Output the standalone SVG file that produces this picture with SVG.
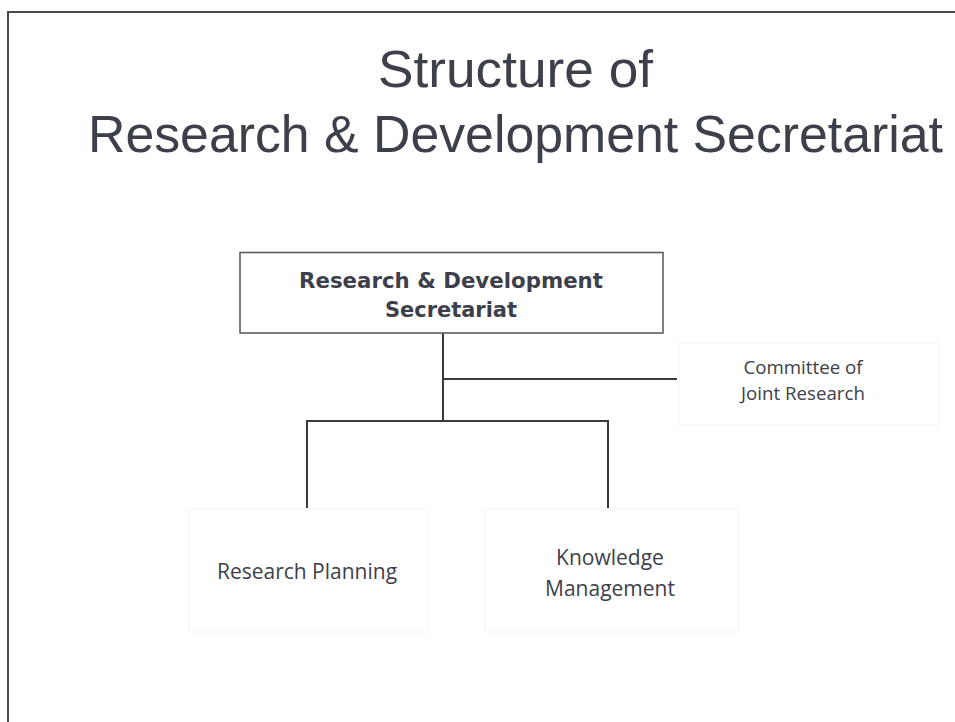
<svg xmlns="http://www.w3.org/2000/svg" width="955" height="722" viewBox="0 0 955 722">
  <style>
    .title { font-family: "Liberation Sans", Arial, sans-serif; font-size: 51.5px; fill: #3d404a; text-anchor: middle; }
    .main { font-family: "DejaVu Sans", Verdana, sans-serif; font-size: 22px; font-weight: bold; fill: #3d404a; text-anchor: middle; }
    .lbl { font-family: "Open Sans", "Noto Sans", sans-serif; fill: #3d404a; text-anchor: middle; }
    .faint { fill: #ffffff; stroke: #f0f5f5; stroke-width: 1; }
    .conn { stroke: #3a3a3a; stroke-width: 2; fill: none; }
  </style>
  <rect x="0" y="0" width="955" height="722" fill="#ffffff"/>
  <!-- slide frame -->
  <path d="M8,722 V12 H955" fill="none" stroke="#4a4a52" stroke-width="2"/>

  <g id="title">
    <text class="title" x="515.5" y="87" textLength="275" lengthAdjust="spacingAndGlyphs">Structure of</text>
    <text class="title" x="515.5" y="152" textLength="855" lengthAdjust="spacingAndGlyphs">Research &amp; Development Secretariat</text>
  </g>

  <g id="connectors">
    <path class="conn" d="M443,333 V421"/>
    <path class="conn" d="M443,379 H677"/>
    <path class="conn" d="M307,508 V421 H608 V508"/>
  </g>

  <g id="node-rd-secretariat">
    <rect x="240" y="252.5" width="423" height="80.5" fill="#ffffff" stroke="#555" stroke-width="1.5"/>
    <text class="main" x="451" y="288" textLength="304" lengthAdjust="spacingAndGlyphs">Research &amp; Development</text>
    <text class="main" x="451" y="317" textLength="132" lengthAdjust="spacingAndGlyphs">Secretariat</text>
  </g>

  <g id="node-committee">
    <rect class="faint" x="679" y="343" width="260" height="82"/>
    <text class="lbl" x="803" y="374" font-size="18.7">Committee of</text>
    <text class="lbl" x="803" y="400" font-size="18.7">Joint Research</text>
  </g>

  <g id="node-research-planning">
    <rect class="faint" x="189" y="509" width="239" height="123"/>
    <text class="lbl" x="307" y="579" font-size="21">Research Planning</text>
  </g>

  <g id="node-knowledge-management">
    <rect class="faint" x="485" y="509" width="253" height="123"/>
    <text class="lbl" x="610" y="565" font-size="21">Knowledge</text>
    <text class="lbl" x="610" y="596" font-size="21">Management</text>
  </g>
</svg>
